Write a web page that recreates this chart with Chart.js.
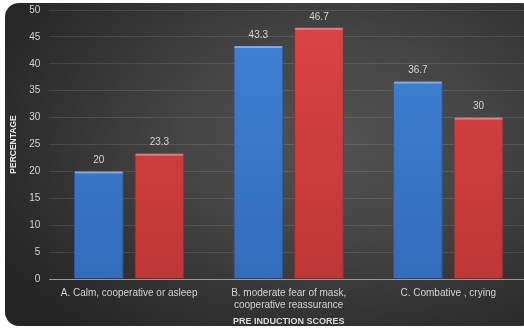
<!DOCTYPE html>
<html>
<head>
<meta charset="utf-8">
<script src="https://cdn.jsdelivr.net/npm/chart.js@4"></script>
<style>
  html, body { margin: 0; padding: 0; background: #ffffff; overflow: hidden; width: 524px; height: 330px; }
  #panel {
    position: absolute; left: 5px; top: 3px; width: 530px; height: 323px;
    border-radius: 14px;
    background: radial-gradient(ellipse 75% 80% at 62% 42%, #525252 0%, #444444 40%, #303030 75%, #242424 100%);
    overflow: hidden;
  }
  #wrap { position: absolute; left: 0; top: -8px; width: 530px; height: 337px; }
</style>
</head>
<body>
<div id="panel"><div id="wrap"><canvas id="c"></canvas></div></div>
<script>
// Pre-induction behaviour scores, percentage of children per group
const categories = [
  'A. Calm, cooperative or asleep',
  ['B. moderate fear of mask,', 'cooperative reassurance'],
  'C. Combative , crying'
];
const groupOne = [20, 43.3, 36.7];
const groupTwo = [23.3, 46.7, 30];
const yTicks = [0, 5, 10, 15, 20, 25, 30, 35, 40, 45, 50];

const FONT = "'Liberation Sans', Arial, sans-serif";

function barFill(top, bottom) {
  return (ctx) => {
    const area = ctx.chart.chartArea;
    if (!area) return top;
    const g = ctx.chart.ctx.createLinearGradient(0, area.top, 0, area.bottom);
    g.addColorStop(0, top);
    g.addColorStop(1, bottom);
    return g;
  };
}

// Value labels above each bar
const valueLabels = {
  id: 'valueLabels',
  afterDatasetsDraw(chart) {
    const ctx = chart.ctx;
    ctx.save();
    ctx.font = '10px ' + FONT;
    ctx.fillStyle = '#d4d4d4';
    ctx.textAlign = 'center';
    ctx.textBaseline = 'bottom';
    chart.data.datasets.forEach((ds, i) => {
      chart.getDatasetMeta(i).data.forEach((bar, j) => {
        ctx.fillText(String(ds.data[j]), bar.x, bar.y - 6);
      });
    });
    ctx.restore();
  }
};

// Light top bevel on each bar
const barBevel = {
  id: 'barBevel',
  afterDatasetsDraw(chart) {
    const ctx = chart.ctx;
    ctx.save();
    chart.data.datasets.forEach((ds, i) => {
      chart.getDatasetMeta(i).data.forEach((bar) => {
        const w = bar.width;
        ctx.fillStyle = ds.bevel;
        ctx.fillRect(bar.x - w / 2 + 1, bar.y, w - 2, 2);
      });
    });
    ctx.restore();
  }
};

new Chart(document.getElementById('c'), {
  type: 'bar',
  data: {
    labels: categories,
    datasets: [
      {
        label: 'Group 1',
        data: groupOne,
        backgroundColor: barFill('#3f83d6', '#346cbb'),
        borderColor: '#2a5a9e',
        borderWidth: 1,
        bevel: 'rgba(150,195,245,0.75)',
        categoryPercentage: 0.76,
        barPercentage: 0.82
      },
      {
        label: 'Group 2',
        data: groupTwo,
        backgroundColor: barFill('#db4444', '#c03636'),
        borderColor: '#9c2a2a',
        borderWidth: 1,
        bevel: 'rgba(245,150,150,0.75)',
        categoryPercentage: 0.76,
        barPercentage: 0.82
      }
    ]
  },
  options: {
    responsive: true,
    maintainAspectRatio: false,
    animation: false,
    layout: { padding: { top: 2, right: 7, left: 4, bottom: 6 } },
    plugins: { legend: { display: false }, tooltip: { enabled: false } },
    scales: {
      x: {
        grid: { display: false, drawTicks: false },
        border: { display: true, color: '#9a9a9a', width: 1 },
        ticks: { color: '#d4d4d4', font: { family: FONT, size: 10 }, padding: 8, maxRotation: 0, autoSkip: false },
        title: {
          display: true, text: 'PRE INDUCTION SCORES', color: '#dcdcdc',
          font: { family: FONT, size: 9, weight: 'bold', lineHeight: 1 }, padding: { top: -2, bottom: 0 }
        }
      },
      y: {
        min: 0, max: 50,
        afterBuildTicks(scale) { scale.ticks = yTicks.map(v => ({ value: v })); },
        grid: { color: 'rgba(255,255,255,0.11)', drawTicks: false },
        border: { display: false },
        ticks: { color: '#d4d4d4', font: { family: FONT, size: 10 }, padding: 9 },
        title: {
          display: true, text: 'PERCENTAGE', color: '#e6e6e6',
          font: { family: FONT, size: 8.5, weight: 'bold' }, padding: { top: 0, bottom: 1 }
        }
      }
    }
  },
  plugins: [valueLabels, barBevel]
});
</script>
</body>
</html>
